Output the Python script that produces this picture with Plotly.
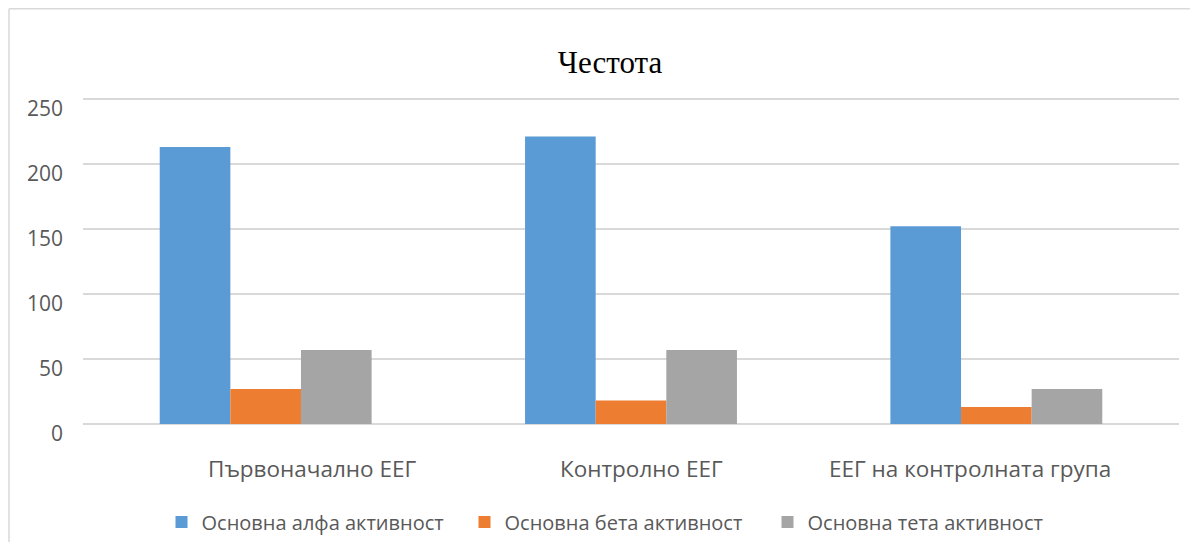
import plotly.graph_objects as go

categories = ["Първоначално ЕЕГ", "Контролно ЕЕГ", "ЕЕГ на контролната група"]
series_names = ["Основна алфа активност", "Основна бета активност", "Основна тета активност"]
alpha_vals = [213, 221, 152]
beta_vals = [27, 18, 13]
theta_vals = [57, 57, 27]
y_ticks = [0, 50, 100, 150, 200, 250]

colors = ["#5B9BD5", "#ED7D31", "#A5A5A5"]
values = [alpha_vals, beta_vals, theta_vals]
label_shift = [46, 10, -26]  # horizontal offset of category labels as in the original

# page body has an 8px margin -> figure origin sits at (8, 8) in the window
OFF = 8
Y_TOP = 253
W, H = 1182, 534
ml = 83 - OFF
pr, pb = 1179 - OFF, 424 - OFF
ph = 325 * Y_TOP / 250
mt = pb - ph
mr, mb = W - pr, H - pb
pw = W - ml - mr

fig = go.Figure()
for name, vals, c in zip(series_names, values, colors):
    fig.add_trace(go.Bar(name=name, x=categories, y=vals, marker_color=c,
                         marker_line_width=0))

family = "Open Sans, Lato, sans-serif"
txt = dict(family=family, size=20, color="#595959")
cat_font = dict(family=family, size=22.5, color="#595959")

for cat, dx in zip(categories, label_shift):
    fig.add_annotation(x=cat, xref="x", y=0, yref="paper", yanchor="middle", xanchor="center",
                       yshift=-44, xshift=dx, text=cat, showarrow=False, font=cat_font)

# outer chart frame (decorative: top and left edges visible)
fx0 = (9 - OFF - ml) / pw
fy1 = (pb - 1) / ph
fig.add_shape(type="line", xref="paper", yref="paper", x0=fx0, x1=(W - ml) / pw, y0=fy1, y1=fy1,
              line=dict(color="#D9D9D9", width=1.5), layer="below")
fig.add_shape(type="line", xref="paper", yref="paper", x0=fx0, x1=fx0, y0=(pb - H) / ph, y1=fy1,
              line=dict(color="#D9D9D9", width=1.5), layer="below")

fig.update_layout(
    width=W, height=H,
    margin=dict(l=ml, r=mr, t=mt, b=mb, autoexpand=False),
    paper_bgcolor="white", plot_bgcolor="white",
    barmode="group", bargap=0.42, bargroupgap=0,
    title=dict(text="Честота", x=(610 - OFF) / W, xanchor="center", y=1 - (62 - OFF) / H, yanchor="middle",
               font=dict(family="Liberation Serif, Times New Roman, serif", size=31, color="#000000")),
    font=txt,
    legend=dict(orientation="h", x=(616 - OFF - ml) / pw, xanchor="center",
                y=(pb - (522 - OFF)) / ph, yanchor="middle", font=txt,
                entrywidth=258, entrywidthmode="pixels",
                itemsizing="constant", traceorder="normal"),
    xaxis=dict(showgrid=False, showline=False, ticks="", showticklabels=False),
    yaxis=dict(range=[0, Y_TOP], tickvals=y_ticks, showgrid=True, gridcolor="#D9D9D9", gridwidth=1.5,
               zeroline=True, zerolinecolor="#D9D9D9", zerolinewidth=1.5,
               showline=False, ticks="", tickfont=dict(family=family, size=21, color="#595959"),
               ticklabelstandoff=19, ticklabelshift=10),
)

fig.write_html("out.html")
